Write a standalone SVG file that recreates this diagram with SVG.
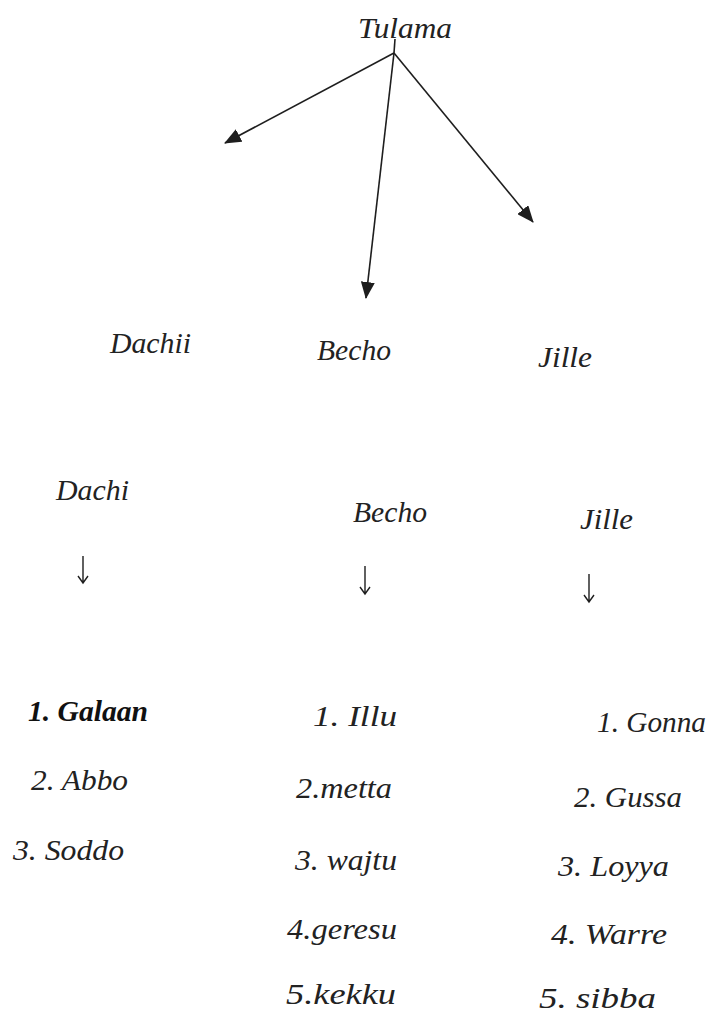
<svg xmlns="http://www.w3.org/2000/svg" width="708" height="1010" viewBox="0 0 708 1010">
<style>
.t{font-family:"Liberation Serif","Times New Roman",serif;font-style:italic;font-size:30px;fill:#222222}
.b{font-weight:bold;fill:#111111}
.ln{stroke:#1e1e1e;stroke-width:1.6;fill:none}
.sm{stroke:#1e1e1e;stroke-width:1.4;fill:none}
</style>
<defs>
<marker id="ah" viewBox="0 0 17 14" refX="16" refY="7" markerWidth="17" markerHeight="14" markerUnits="userSpaceOnUse" orient="auto">
<path d="M0,0 L17,7 L0,14 Z" fill="#1e1e1e"/>
</marker>
</defs>
<rect width="708" height="1010" fill="#ffffff"/>
<g id="connectors">
<line class="ln" x1="395" y1="39" x2="394" y2="53"/>
<line class="ln" x1="394" y1="53" x2="225" y2="143" marker-end="url(#ah)"/>
<line class="ln" x1="394" y1="53" x2="366" y2="298" marker-end="url(#ah)"/>
<line class="ln" x1="394" y1="53" x2="533" y2="222" marker-end="url(#ah)"/>
<path class="sm" d="M83,556 V583 M78,576 L83,583 L88,576"/>
<path class="sm" d="M365,566 V594 M360,587 L365,594 L370,587"/>
<path class="sm" d="M589,574 V602 M584,595 L589,602 L594,595"/>
</g>
<g id="tulama"><text class="t" x="358" y="38" textLength="94" lengthAdjust="spacingAndGlyphs">Tulama</text></g>
<g id="dachii"><text class="t" x="110" y="353" textLength="81" lengthAdjust="spacingAndGlyphs">Dachii</text></g>
<g id="becho1"><text class="t" x="317" y="360" textLength="74" lengthAdjust="spacingAndGlyphs">Becho</text></g>
<g id="jille1"><text class="t" x="538" y="367" textLength="54" lengthAdjust="spacingAndGlyphs">Jille</text></g>
<g id="dachi"><text class="t" x="56" y="500" textLength="73" lengthAdjust="spacingAndGlyphs">Dachi</text></g>
<g id="becho2"><text class="t" x="353" y="522" textLength="74" lengthAdjust="spacingAndGlyphs">Becho</text></g>
<g id="jille2"><text class="t" x="580" y="529" textLength="53" lengthAdjust="spacingAndGlyphs">Jille</text></g>
<g id="list-dachi">
<text class="t b" x="28" y="721" textLength="120" lengthAdjust="spacingAndGlyphs">1. Galaan</text>
<text class="t" x="31" y="790" textLength="97" lengthAdjust="spacingAndGlyphs">2. Abbo</text>
<text class="t" x="13" y="860" textLength="111" lengthAdjust="spacingAndGlyphs">3. Soddo</text>
</g>
<g id="list-becho">
<text class="t" x="313" y="726" textLength="84" lengthAdjust="spacingAndGlyphs">1. Illu</text>
<text class="t" x="296" y="798" textLength="96" lengthAdjust="spacingAndGlyphs">2.metta</text>
<text class="t" x="295" y="870" textLength="102" lengthAdjust="spacingAndGlyphs">3. wajtu</text>
<text class="t" x="287" y="939" textLength="110" lengthAdjust="spacingAndGlyphs">4.geresu</text>
<text class="t" x="286" y="1004" textLength="110" lengthAdjust="spacingAndGlyphs">5.kekku</text>
</g>
<g id="list-jille">
<text class="t" x="597" y="732" textLength="109" lengthAdjust="spacingAndGlyphs">1. Gonna</text>
<text class="t" x="574" y="807" textLength="108" lengthAdjust="spacingAndGlyphs">2. Gussa</text>
<text class="t" x="558" y="876" textLength="111" lengthAdjust="spacingAndGlyphs">3. Loyya</text>
<text class="t" x="551" y="944" textLength="116" lengthAdjust="spacingAndGlyphs">4. Warre</text>
<text class="t" x="539" y="1008" textLength="117" lengthAdjust="spacingAndGlyphs">5. sibba</text>
</g>
</svg>
